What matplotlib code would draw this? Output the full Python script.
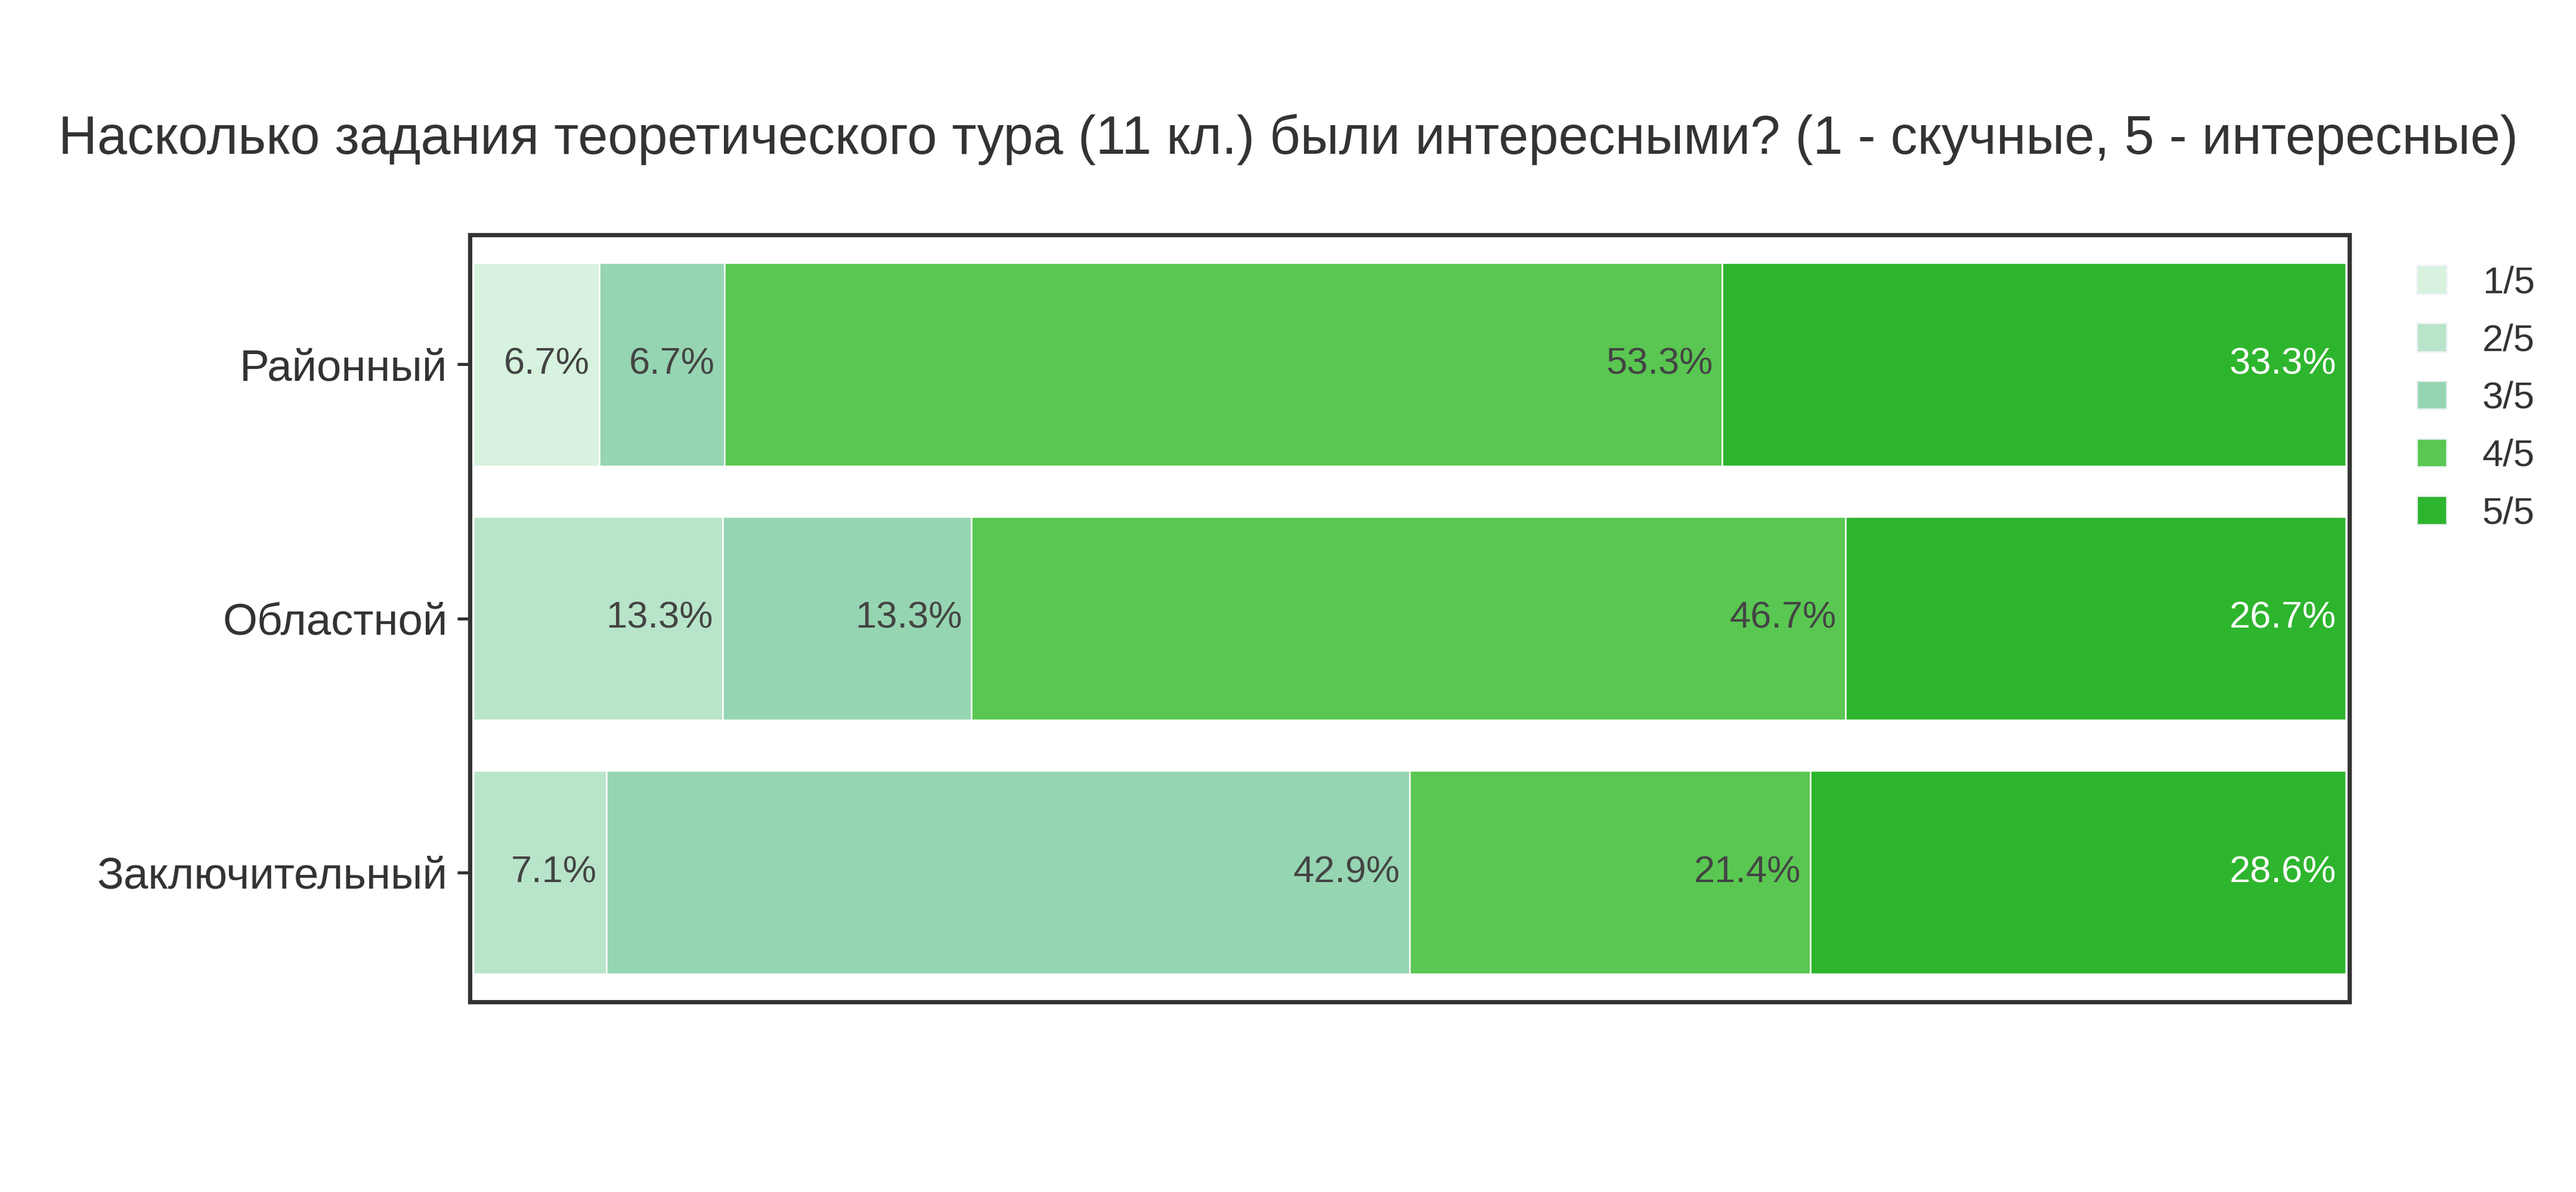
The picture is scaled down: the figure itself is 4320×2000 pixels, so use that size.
import matplotlib
matplotlib.use("Agg")
import matplotlib.pyplot as plt
from matplotlib.patches import Patch
import numpy as np

plt.rcParams['font.family'] = ['Liberation Sans', 'DejaVu Sans']

title = "Насколько задания теоретического тура (11 кл.) были интересными? (1 - скучные, 5 - интересные)"
categories = ["Районный", "Областной", "Заключительный"]
series_names = ["1/5", "2/5", "3/5", "4/5", "5/5"]
s1 = [6.7, 0.0, 0.0]
s2 = [0.0, 13.3, 7.1]
s3 = [6.7, 13.3, 42.9]
s4 = [53.3, 46.7, 21.4]
s5 = [33.3, 26.7, 28.6]
series = [s1, s2, s3, s4, s5]
colors = ["#d7f2de", "#b8e4c9", "#96d5b2", "#59c751", "#2eb52e"]
text_colors = ["#444444", "#444444", "#444444", "#444444", "#ffffff"]

fig = plt.figure(figsize=(14.4, 20/3), dpi=300)
ax = fig.add_axes([788/4320, 1-1681/2000, (3940-788)/4320, (1681-394)/2000])

ypos = np.arange(len(categories))[::-1]
left = np.zeros(len(categories))
for vals, col, tcol, name in zip(series, colors, text_colors, series_names):
    vals = np.array(vals)
    bars = ax.barh(ypos, vals, left=left, height=0.8, color=col,
                   edgecolor="white", linewidth=0.6, label=name)
    for b, v in zip(bars, vals):
        if v > 0:
            ax.annotate(f"{v:.1f}%", xy=(b.get_x() + b.get_width(), b.get_y() + b.get_height()/2),
                        xytext=(-3.8, 0), textcoords="offset points",
                        ha="right", va="center", fontsize=15.2, color=tcol)
    left = left + vals

ax.set_xlim(-0.2, 100.2)
ax.set_ylim(-0.51, 2.51)
ax.set_yticks(ypos)
ax.set_yticklabels(categories, fontsize=17.9, color="#333333")
ax.set_xticks([])
ax.tick_params(axis="y", length=5, width=1.2, color="#333333", pad=4)
for sp in ax.spines.values():
    sp.set_color("#333333")
    sp.set_linewidth(1.7)

fig.text(0.5, 1-234/2000, title, ha="center", va="center", fontsize=21.6, color="#333333")

handles = [Patch(facecolor=c, edgecolor="#eef2f7", linewidth=0.6, label=n) for c, n in zip(colors, series_names)]
leg = fig.legend(handles=handles, loc="upper left", bbox_to_anchor=(4028/4320, 1-420/2000),
                 frameon=False, fontsize=15.2, handlelength=0.78, handleheight=0.78,
                 handletextpad=0.95, labelspacing=0.595, borderaxespad=0)
for t in leg.get_texts():
    t.set_color("#333333")

fig.savefig("out.png", dpi=300, facecolor="white")
